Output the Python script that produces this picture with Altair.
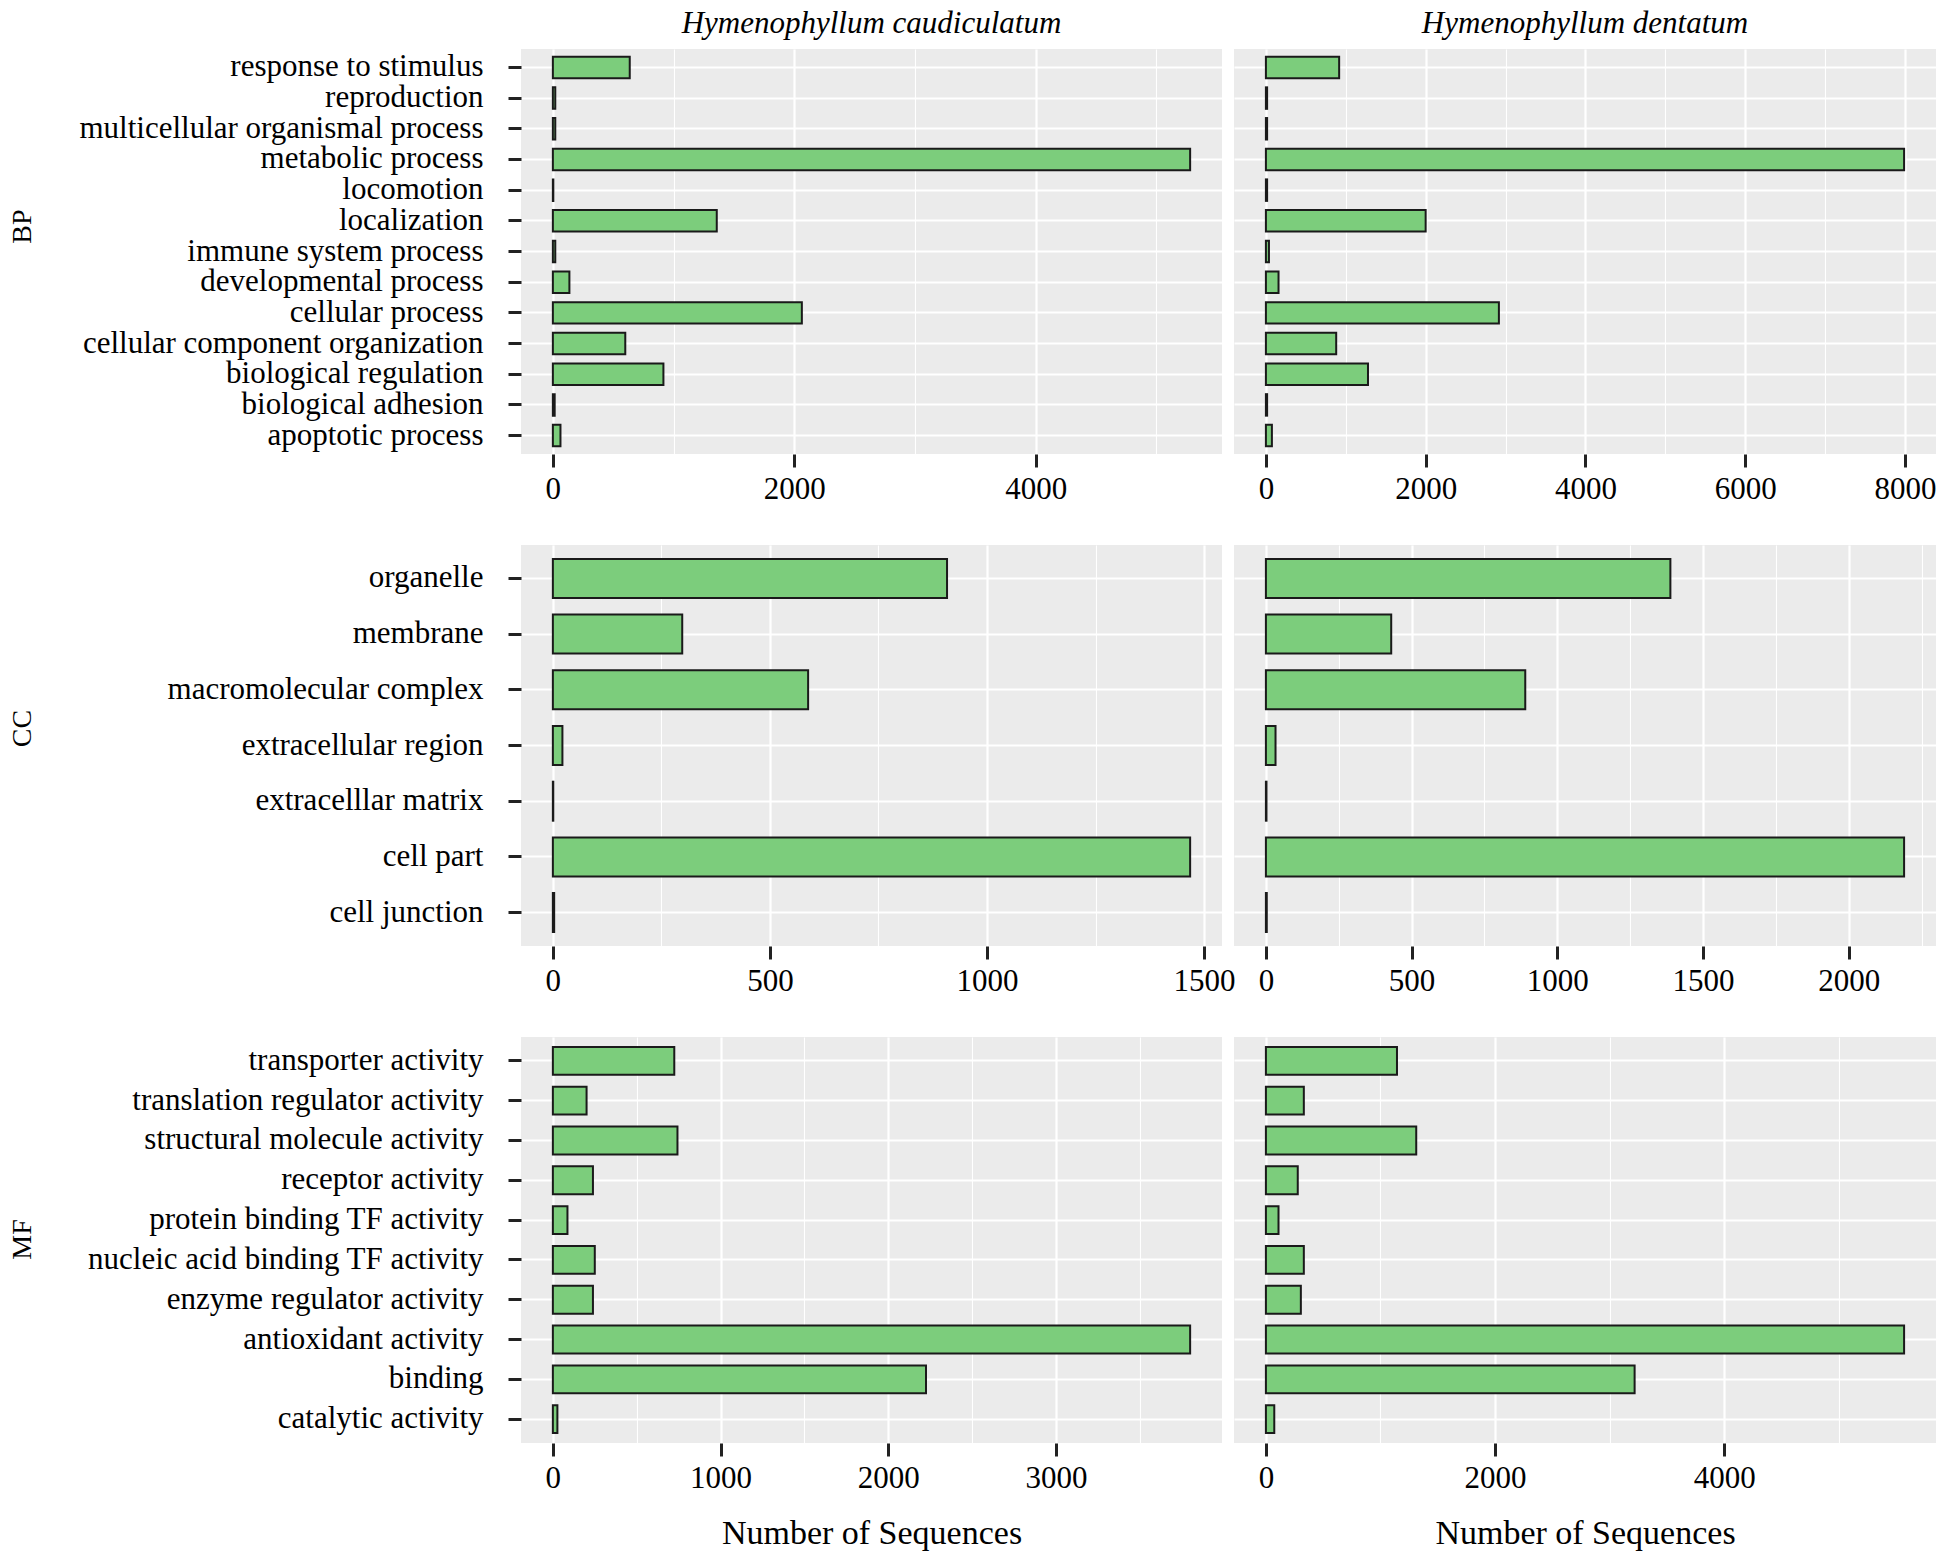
import altair as alt
import pandas as pd

FONT = "Liberation Serif"

species = ["Hymenophyllum caudiculatum", "Hymenophyllum dentatum"]

bp_terms = ["response to stimulus", "reproduction", "multicellular organismal process",
            "metabolic process", "locomotion", "localization", "immune system process",
            "developmental process", "cellular process", "cellular component organization",
            "biological regulation", "biological adhesion", "apoptotic process"]
bp_caud = [637, 20, 20, 5280, 4, 1358, 20, 137, 2063, 600, 916, 15, 63]
bp_dent = [917, 15, 15, 7990, 15, 2000, 38, 158, 2917, 880, 1278, 15, 75]

cc_terms = ["organelle", "membrane", "macromolecular complex", "extracellular region",
            "extracelllar matrix", "cell part", "cell junction"]
cc_caud = [908, 298, 588, 22, 1, 1468, 3]
cc_dent = [1388, 430, 890, 33, 2, 2190, 3]

mf_terms = ["transporter activity", "translation regulator activity",
            "structural molecule activity", "receptor activity", "protein binding TF activity",
            "nucleic acid binding TF activity", "enzyme regulator activity",
            "antioxidant activity", "binding", "catalytic activity"]
mf_caud = [724, 201, 743, 239, 87, 250, 239, 3800, 2225, 27]
mf_dent = [1144, 331, 1312, 278, 110, 331, 305, 5570, 3218, 73]

row_labels = ["BP", "CC", "MF"]
row_terms = [bp_terms, cc_terms, mf_terms]
row_series = [[bp_caud, bp_dent], [cc_caud, cc_dent], [mf_caud, mf_dent]]
row_major = [[2000, 2000], [500, 500], [1000, 2000]]
row_height = [405, 401, 406]
row_title_y = [177, 183, 202]
col_width = [701, 702]

panels = []
for r in range(3):
    terms = row_terms[r]
    for c in range(2):
        vals = row_series[r][c]
        major = row_major[r][c]
        minor = major // 2
        vmax = max(vals)
        lo, hi = -0.05 * vmax, 1.05 * vmax
        grid_vals = list(range(0, int(hi) + 1, minor))
        is_major = f"datum.value % {major} === 0"
        df = pd.DataFrame({"term": terms, "count": vals})

        x_axis = alt.Axis(
            values=grid_vals,
            labelExpr=f"{is_major} ? format(datum.value, 'd') : ''",
            labelFont=FONT, labelFontSize=31, labelColor="black",
            labelPadding=7, labelFlush=False, labelOverlap=False,
            tickSize=13, tickColor="#222222",
            tickWidth=3,
            tickOpacity={"condition": {"test": is_major, "value": 1}, "value": 0},
            domain=False, grid=True, gridColor="white",
            gridWidth={"condition": {"test": is_major, "value": 2.2}, "value": 1.1},
            title="Number of Sequences" if r == 2 else None,
            titleFont=FONT, titleFontSize=34, titleFontWeight="normal",
            titleColor="black", titlePadding=23,
        )
        if c == 0:
            y_axis = alt.Axis(
                title=row_labels[r], titleX=-499, titleY=row_title_y[r],
                titleAngle=270, titleBaseline="middle", titleAlign="center",
                titleFont=FONT, titleFontSize=28, titleFontWeight="normal",
                titleColor="black",
                labelFont=FONT, labelFontSize=31, labelColor="black",
                labelPadding=25, labelLimit=1000,
                tickSize=13, tickWidth=3, tickColor="#222222", bandPosition=0.5,
                domain=False, grid=True, gridColor="white", gridWidth=2.2,
            )
        else:
            y_axis = alt.Axis(title=None, labels=False, ticks=False, domain=False,
                              grid=True, gridColor="white", gridWidth=2.2,
                              bandPosition=0.5)

        props = dict(width=col_width[c], height=row_height[r])
        if r == 0:
            props["title"] = alt.TitleParams(
                text=species[c], font=FONT, fontSize=31, fontStyle="italic",
                fontWeight="normal", color="black", offset=9, anchor="middle")

        ch = alt.Chart(df).mark_bar(
            fill="#7CCD7C", stroke="#1a1a1a", strokeWidth=2
        ).encode(
            x=alt.X("count:Q", scale=alt.Scale(domain=[lo, hi], nice=False, zero=False),
                    axis=x_axis),
            x2=alt.datum(0),
            y=alt.Y("term:N", sort=terms,
                    scale=alt.Scale(paddingInner=0.3, paddingOuter=0.25),
                    axis=y_axis),
        ).properties(**props)
        panels.append(ch)

chart = alt.concat(
    *panels, columns=2, spacing={"row": 91, "column": 12}, bounds="flush"
).properties(
    padding={"left": 0, "top": 0, "right": 0, "bottom": 4}
).configure_view(
    fill="#EBEBEB", stroke=None
)

chart.save("out.html", embed_options={"renderer": "svg", "actions": False})
